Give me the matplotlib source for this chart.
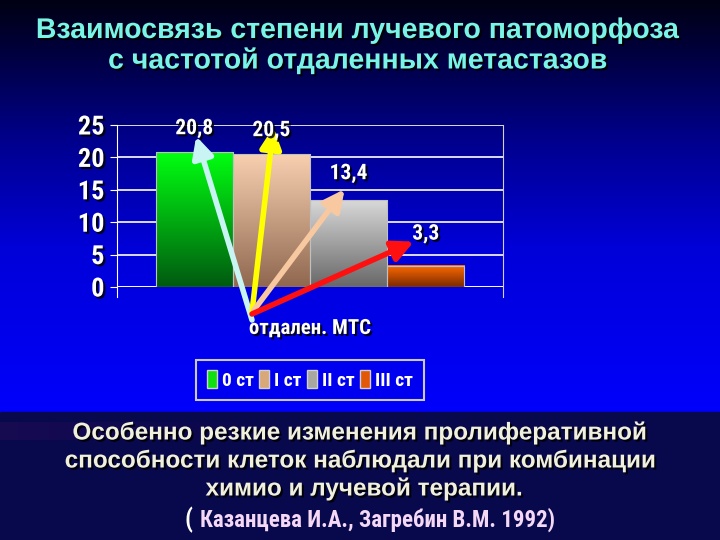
import numpy as np
import matplotlib
matplotlib.use("Agg")
import matplotlib.pyplot as plt
from matplotlib import font_manager as fm
from matplotlib.colors import LinearSegmentedColormap, to_rgb
from matplotlib.patches import Patch, Rectangle
from matplotlib.transforms import offset_copy
import matplotlib.patheffects as pe

# ---- data ----
categories = ["отдален. МТС"]
series_names = ["0 ст", "I ст", "II ст", "III ст"]
values = [20.8, 20.5, 13.4, 3.3]
value_labels = ["20,8", "20,5", "13,4", "3,3"]
yticks = [0, 5, 10, 15, 20, 25]

title_lines = ["Взаимосвязь степени лучевого патоморфоза",
               "с частотой отдаленных метастазов"]
note_lines = ["Особенно резкие изменения пролиферативной",
              "способности клеток наблюдали при комбинации",
              "химио и лучевой терапии."]
citation = "Казанцева И.А., Загребин В.М. 1992)"

# ---- fonts ----
def available(name):
    try:
        fm.findfont(fm.FontProperties(family=name), fallback_to_default=False)
        return True
    except Exception:
        return False

cands = ["Liberation Sans Narrow", "Arial Narrow", "DejaVu Sans Condensed",
         "Roboto Condensed", "Open Sans Condensed", "Noto Sans Condensed"]
narrow_name = next((c for c in cands if available(c)), None)
IS_NARROW = narrow_name is not None
if narrow_name is None:
    narrow_name = "Liberation Sans"
narrow = [narrow_name, "DejaVu Sans"]
arial = ["Liberation Sans", "DejaVu Sans"]
ns = 1.0 if IS_NARROW else 0.86  # size scale when no condensed face

# ---- styles ----
bar_top = ["#00ff10", "#f8d0b0", "#d8d8d8", "#ff6a00"]
bar_bot = ["#005a10", "#906850", "#686868", "#7a2a00"]
legend_cols = ["#10e010", "#d8a878", "#a8a8a0", "#e05808"]
arrow_cols = ["#c8f4f4", "#ffff00", "#f8c8a0", "#ff1010"]

W, H = 720, 540
fig = plt.figure(figsize=(7.2, 5.4), dpi=100)

# ---- background ----
bg = fig.add_axes([0, 0, 1, 1], zorder=-10)
bg.set_axis_off()
stops = [(0.0, "#000014"), (0.12, "#00003c"), (0.35, "#000090"),
         (0.6, "#0000d8"), (1.0, "#0000fc")]
cm = LinearSegmentedColormap.from_list("bgc", stops)
grad = np.linspace(0, 1, 412).reshape(-1, 1)
bg.imshow(grad, cmap=cm, aspect="auto", origin="upper", extent=[0, W, 128, 540])
bg.add_patch(Rectangle((0, 0), W, 128, color="#08084c", zorder=2))
streak = np.linspace(1, 0, 300).reshape(1, -1)
bg.imshow(np.ones((1, 300, 3)) * np.array(to_rgb("#3a1060")), alpha=streak * 0.3,
          extent=[0, 300, 100, 118], aspect="auto", zorder=3)
bg.set_xlim(0, W)
bg.set_ylim(0, H)

shadow = [pe.withSimplePatchShadow(offset=(1.5, -1.5), shadow_rgbFace="k", alpha=0.85)]

# ---- titles ----
for i, line in enumerate(title_lines):
    fig.text(0.5 - 2 / W, (H - 31 - 30 * i) / H, line, ha="center", va="center",
             fontsize=20.5, fontweight="bold", family=arial, color="#7af4e6",
             path_effects=shadow)

# ---- chart ----
ax = fig.add_axes([117 / W, (H - 287) / H, (503 - 117) / W, (287 - 125) / H])
ax.set_facecolor("none")
bw = 0.2
offsets = [-0.3, -0.1, 0.1, 0.3]
for i, v in enumerate(values):
    cmap_b = LinearSegmentedColormap.from_list("b%d" % i, [bar_bot[i], bar_top[i]])
    x0 = offsets[i] - bw / 2
    ax.imshow(np.linspace(0, 1, 100).reshape(-1, 1), cmap=cmap_b, origin="lower",
              extent=[x0, x0 + bw, 0, v], aspect="auto", zorder=2)
    ax.add_patch(Rectangle((x0, 0), bw, v, fill=False, edgecolor="#c0c0c0", lw=0.8, zorder=3))
ax.set_xlim(-0.5, 0.5)
ax.set_ylim(0, 25)

ax.set_yticks(yticks)
ax.set_yticklabels([str(t) for t in yticks], family=narrow, fontweight="bold",
                   fontsize=19 * ns, color="white")
ax.yaxis.grid(True, color="white", lw=1.2, zorder=1)
ax.set_axisbelow(True)
ax.tick_params(axis="y", length=5, color="white", pad=4)
ax.set_xticks([0])
ax.set_xticklabels(categories, family=narrow, fontweight="bold", fontsize=15 * ns, color="white")
ax.tick_params(axis="x", length=0, pad=23)
for lbl in ax.get_xticklabels() + ax.get_yticklabels():
    lbl.set_path_effects(shadow)
ax.spines["top"].set_visible(False)
ax.spines["bottom"].set_visible(False)
ax.spines["left"].set_color("white")
ax.spines["right"].set_color("#d0d0d0")
ax.spines["left"].set_bounds(-1.6, 25)
ax.spines["right"].set_bounds(-1.6, 25)
ax.axhline(0, color="white", lw=1.2, zorder=1)

# value labels
lab_off = [24, 24, 27, 32]
for i, v in enumerate(values):
    ax.annotate(value_labels[i], xy=(offsets[i], v), xytext=(0, lab_off[i]),
                textcoords="offset pixels", ha="center", va="center",
                family=narrow, fontweight="bold", fontsize=15.5 * ns, color="white", zorder=6,
                path_effects=shadow)

# arrows
head_off = [(2, 16), (2, 27), (-4, 11), (-12, 24)]
tails = [(252, H - 320), (252, H - 312), (254, H - 310), (252, H - 314)]
for i, v in enumerate(values):
    tr = offset_copy(ax.transData, fig=fig, x=head_off[i][0], y=head_off[i][1], units="dots")
    ax.annotate("", xy=(offsets[i], v), xycoords=tr,
                xytext=tails[i], textcoords="figure pixels",
                arrowprops=dict(arrowstyle="-|>,head_length=0.7,head_width=0.35",
                                mutation_scale=18, lw=4, color=arrow_cols[i],
                                shrinkA=0, shrinkB=0),
                zorder=5, annotation_clip=False)

# legend
handles = [Patch(facecolor=legend_cols[i], edgecolor="#d0d0d0", label=series_names[i])
           for i in range(4)]
leg = fig.legend(handles=handles, loc="center", bbox_to_anchor=(310 / W, (H - 380) / H),
                 ncol=4, frameon=True, fancybox=False, handlelength=0.5, handleheight=1.0,
                 handletextpad=0.25, columnspacing=0.3, borderpad=0.55, borderaxespad=0,
                 prop=dict(family=narrow, weight="bold", size=14 * ns))
leg.get_frame().set_facecolor("#0000f0")
leg.get_frame().set_edgecolor("#c8c8d8")
leg.get_frame().set_linewidth(1.5)
leg.get_frame().set_alpha(1)
for t in leg.get_texts():
    t.set_color("white")

# ---- note text ----
for i, line in enumerate(note_lines):
    fig.text(0.5 + (4 if i == 2 else 0) / W, (H - 433 - 28 * i) / H, line,
             ha="center", va="center", fontsize=17.5, fontweight="bold", family=arial,
             color="#f0f0dc", path_effects=shadow)
fig.text(185 / W, (H - 520) / H, "(", ha="left", va="center", fontsize=18 * ns, fontweight="bold",
         family=narrow, color="white")
fig.text(200 / W, (H - 520) / H, citation, ha="left", va="center", fontsize=16.5 * ns,
         fontweight="bold", family=narrow, color="#f4d8f4")

fig.savefig("out.png", dpi=100)
